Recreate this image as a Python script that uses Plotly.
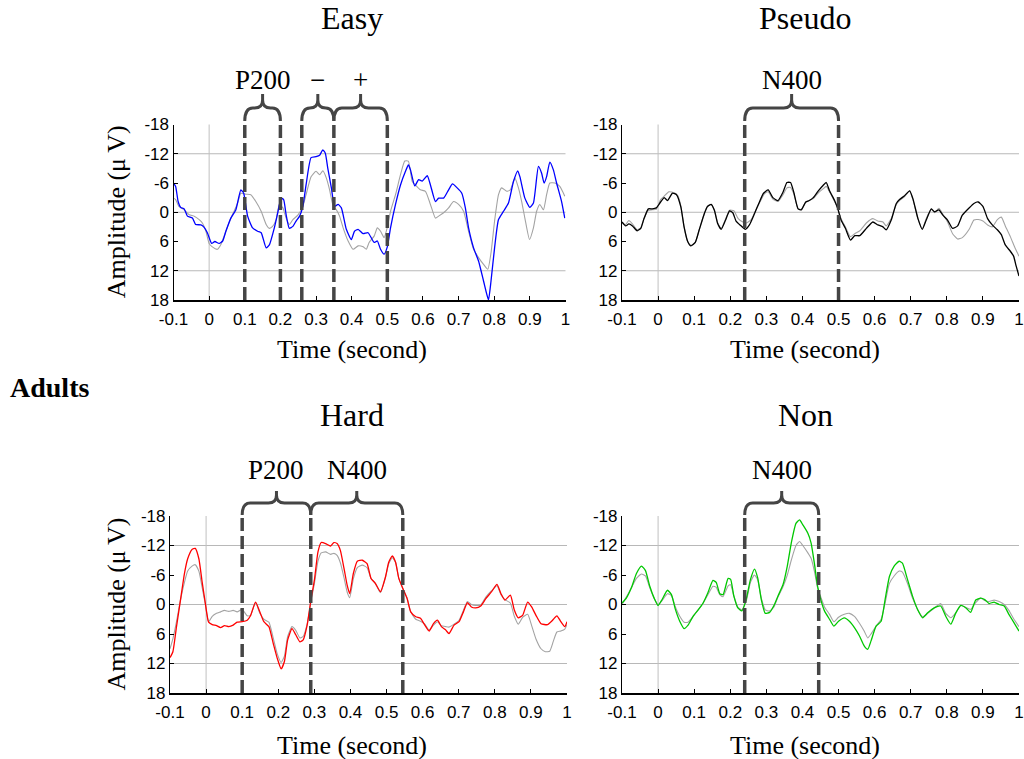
import plotly.graph_objects as go

W, H = 1024, 759

# ---------------- data (time in s, amplitude in µV) ----------------
easy_main = [(-0.100,-6.0),(-0.094,-5.3),(-0.087,-2.2),(-0.080,-1.0),(-0.070,-0.7),(-0.061,0.8),(-0.047,1.2),(-0.038,2.5),(-0.023,2.6),(-0.014,3.1),(-0.005,4.2),(0.007,6.4),(0.016,6.0),(0.028,6.4),(0.038,5.9),(0.047,3.9),(0.061,1.2),(0.075,-0.5),(0.089,-4.6),(0.097,-3.9),(0.108,0.8),(0.122,3.2),(0.136,3.9),(0.146,4.2),(0.160,7.3),(0.169,6.7),(0.183,3.2),(0.192,0.3),(0.202,-2.9),(0.209,-2.6),(0.216,0.5),(0.225,3.3),(0.235,2.9),(0.244,1.8),(0.254,0.8),(0.263,-1.2),(0.272,-5.6),(0.286,-11.2),(0.300,-11.4),(0.310,-11.7),(0.319,-12.8),(0.326,-12.1),(0.333,-9.0),(0.343,-5.0),(0.352,-1.2),(0.362,-1.6),(0.371,-0.9),(0.385,3.5),(0.399,5.6),(0.408,3.9),(0.418,3.5),(0.432,4.4),(0.446,4.2),(0.463,6.2),(0.472,5.9),(0.481,7.6),(0.491,8.6),(0.500,7.1),(0.509,3.2),(0.523,-1.6),(0.537,-5.6),(0.551,-8.4),(0.559,-9.7),(0.565,-8.7),(0.577,-5.4),(0.588,-6.7),(0.598,-6.4),(0.612,-7.5),(0.621,-5.6),(0.635,-2.2),(0.644,-2.9),(0.658,-2.9),(0.672,-4.6),(0.683,-5.8),(0.696,-5.0),(0.709,-3.9),(0.719,-0.9),(0.728,3.2),(0.742,7.3),(0.756,10.0),(0.770,14.1),(0.779,16.8),(0.784,18.0),(0.791,14.1),(0.801,7.3),(0.812,1.5),(0.826,-0.2),(0.840,-1.9),(0.854,-6.3),(0.866,-8.5),(0.872,-7.3),(0.886,-2.9),(0.900,-1.0),(0.910,-1.9),(0.924,-9.4),(0.933,-8.0),(0.940,-6.0),(0.947,-7.3),(0.956,-10.3),(0.966,-8.7),(0.975,-6.0),(0.989,-2.2),(0.998,1.2)]
easy_ref = [(-0.100,-2.9),(-0.094,-2.6),(-0.085,-1.2),(-0.070,-0.5),(-0.056,0.5),(-0.042,0.8),(-0.028,1.5),(-0.019,2.2),(-0.009,3.9),(0.000,6.4),(0.009,7.1),(0.023,7.6),(0.033,6.6),(0.042,4.9),(0.052,2.9),(0.061,1.2),(0.070,-0.2),(0.080,-1.9),(0.089,-3.9),(0.103,-3.7),(0.117,-3.6),(0.131,-2.2),(0.146,-0.2),(0.160,2.5),(0.169,3.3),(0.178,2.9),(0.188,1.5),(0.197,-1.6),(0.207,-0.9),(0.216,1.2),(0.225,2.5),(0.235,1.5),(0.249,0.6),(0.263,-1.2),(0.272,-3.6),(0.286,-7.3),(0.300,-8.4),(0.310,-7.7),(0.319,-8.5),(0.329,-7.0),(0.338,-4.6),(0.347,-1.6),(0.357,-0.5),(0.366,0.8),(0.376,3.2),(0.390,5.9),(0.404,7.6),(0.418,6.9),(0.432,7.1),(0.441,7.6),(0.449,6.2),(0.463,4.9),(0.472,3.2),(0.481,3.9),(0.491,5.2),(0.500,3.1),(0.509,-0.2),(0.523,-3.6),(0.537,-7.7),(0.549,-10.5),(0.559,-10.5),(0.570,-6.3),(0.579,-5.6),(0.593,-4.6),(0.607,-4.3),(0.621,-1.6),(0.635,1.2),(0.644,0.8),(0.658,0.1),(0.672,-0.9),(0.686,-2.2),(0.700,-1.6),(0.714,-0.2),(0.728,3.9),(0.742,7.6),(0.756,9.3),(0.770,10.7),(0.782,11.7),(0.791,8.3),(0.801,1.8),(0.812,-3.6),(0.821,-5.0),(0.835,-4.3),(0.845,-4.6),(0.858,-7.0),(0.868,-5.0),(0.877,-2.2),(0.886,1.2),(0.899,5.6),(0.910,3.2),(0.919,-0.2),(0.928,-1.6),(0.938,-0.5),(0.947,-3.6),(0.956,-6.0),(0.970,-6.0),(0.984,-5.3),(0.998,-3.3)]

pseudo_main = [(-0.100,2.0),(-0.090,2.8),(-0.081,2.4),(-0.071,2.8),(-0.058,3.8),(-0.048,3.3),(-0.039,1.3),(-0.027,-0.7),(-0.016,-0.7),(-0.005,-0.9),(0.007,-2.1),(0.017,-3.0),(0.026,-2.4),(0.040,-3.9),(0.051,-3.6),(0.063,-1.1),(0.072,3.0),(0.082,6.0),(0.091,6.9),(0.103,6.2),(0.114,3.6),(0.128,0.3),(0.137,-1.2),(0.147,-1.6),(0.156,-0.4),(0.165,2.3),(0.175,3.5),(0.187,1.6),(0.198,-0.3),(0.207,0.1),(0.216,1.8),(0.227,2.6),(0.242,3.5),(0.253,2.6),(0.267,0.3),(0.279,-1.8),(0.292,-3.9),(0.305,-4.6),(0.318,-3.0),(0.332,-2.4),(0.346,-4.1),(0.357,-6.1),(0.367,-6.1),(0.376,-4.1),(0.388,-0.7),(0.397,-0.5),(0.409,-2.1),(0.419,-2.4),(0.430,-3.0),(0.444,-4.4),(0.457,-5.5),(0.466,-6.1),(0.475,-4.4),(0.489,-2.4),(0.498,-0.7),(0.507,1.6),(0.519,3.3),(0.533,5.7),(0.545,4.8),(0.559,4.8),(0.577,3.3),(0.595,2.0),(0.609,2.6),(0.623,3.0),(0.632,3.6),(0.646,1.6),(0.660,-1.8),(0.669,-2.6),(0.683,-3.4),(0.697,-4.4),(0.706,-2.8),(0.720,1.3),(0.732,3.5),(0.743,1.6),(0.757,-0.7),(0.766,-0.1),(0.778,-0.5),(0.789,0.6),(0.802,1.6),(0.816,3.3),(0.830,2.8),(0.843,0.6),(0.862,-0.9),(0.875,-1.8),(0.887,-2.1),(0.900,-1.2),(0.913,1.3),(0.926,2.6),(0.940,3.6),(0.951,4.6),(0.962,6.7),(0.976,8.0),(0.985,9.0),(0.992,11.0),(1.000,13.1)]
pseudo_ref = [(-0.100,2.3),(-0.090,2.5),(-0.081,1.7),(-0.071,2.4),(-0.058,3.6),(-0.048,3.2),(-0.039,1.3),(-0.027,-0.4),(-0.016,-0.5),(-0.005,-0.6),(0.007,-2.6),(0.017,-3.3),(0.030,-4.2),(0.045,-4.0),(0.055,-3.4),(0.063,-1.3),(0.072,3.0),(0.082,6.0),(0.091,6.8),(0.103,6.2),(0.114,3.6),(0.128,0.3),(0.137,-1.2),(0.147,-1.6),(0.156,-0.4),(0.165,2.1),(0.175,3.3),(0.187,1.4),(0.198,-0.4),(0.210,-0.3),(0.222,1.3),(0.235,2.0),(0.245,2.2),(0.258,1.5),(0.270,-0.3),(0.283,-2.2),(0.295,-3.8),(0.305,-4.2),(0.318,-2.7),(0.332,-2.2),(0.346,-3.6),(0.357,-5.0),(0.367,-5.1),(0.376,-3.8),(0.388,-0.7),(0.397,-0.6),(0.409,-2.0),(0.419,-2.4),(0.430,-2.8),(0.444,-4.0),(0.457,-4.8),(0.466,-5.3),(0.475,-4.2),(0.489,-2.2),(0.498,-0.8),(0.507,1.3),(0.519,3.0),(0.533,5.0),(0.545,4.4),(0.559,3.8),(0.577,2.2),(0.595,1.3),(0.609,1.8),(0.623,2.0),(0.632,2.8),(0.646,1.3),(0.660,-1.6),(0.669,-2.4),(0.683,-3.2),(0.697,-4.4),(0.706,-2.6),(0.720,1.3),(0.732,3.4),(0.743,1.3),(0.757,-0.7),(0.766,0.1),(0.778,-0.8),(0.789,0.4),(0.802,2.0),(0.816,4.4),(0.830,5.5),(0.843,5.2),(0.862,3.5),(0.875,1.6),(0.887,1.5),(0.900,1.8),(0.913,2.6),(0.926,3.0),(0.940,1.5),(0.951,1.0),(0.962,2.8),(0.976,5.0),(0.990,7.5),(1.000,9.0)]

hard_main = [(-0.100,10.8),(-0.092,9.6),(-0.082,4.5),(-0.071,-0.9),(-0.060,-6.3),(-0.051,-9.3),(-0.039,-11.2),(-0.030,-11.4),(-0.020,-9.3),(-0.011,-4.6),(-0.002,-0.2),(0.007,3.6),(0.017,4.1),(0.029,4.3),(0.040,4.7),(0.051,4.3),(0.063,4.5),(0.075,4.2),(0.086,3.6),(0.100,3.5),(0.114,3.2),(0.123,2.3),(0.137,-0.5),(0.149,1.5),(0.160,3.5),(0.174,4.5),(0.186,7.9),(0.197,10.9),(0.208,13.1),(0.217,11.6),(0.226,7.2),(0.238,4.9),(0.248,6.1),(0.260,7.6),(0.269,7.2),(0.280,4.2),(0.291,-1.2),(0.300,-4.9),(0.310,-10.7),(0.319,-12.6),(0.331,-12.4),(0.345,-11.9),(0.354,-12.6),(0.363,-12.4),(0.372,-11.0),(0.382,-7.4),(0.391,-3.9),(0.398,-2.2),(0.408,-6.3),(0.419,-8.8),(0.433,-9.0),(0.446,-8.3),(0.457,-5.3),(0.469,-4.3),(0.483,-2.6),(0.497,-5.6),(0.506,-8.6),(0.516,-9.9),(0.525,-8.6),(0.534,-5.3),(0.546,-3.1),(0.557,-1.2),(0.567,1.5),(0.581,2.5),(0.594,2.8),(0.606,4.2),(0.618,5.4),(0.630,3.9),(0.641,3.2),(0.652,4.5),(0.664,5.2),(0.673,5.9),(0.687,4.2),(0.701,3.5),(0.713,1.5),(0.724,-0.4),(0.735,0.5),(0.747,0.7),(0.761,0.3),(0.775,-1.2),(0.791,-2.6),(0.806,-4.1),(0.817,-2.2),(0.828,-0.9),(0.843,-1.9),(0.854,1.1),(0.865,2.7),(0.877,2.2),(0.891,-0.5),(0.902,0.5),(0.914,2.2),(0.928,3.9),(0.946,4.1),(0.960,3.2),(0.972,2.3),(0.983,3.5),(0.994,4.5),(1.000,3.5)]
hard_ref = [(-0.100,9.0),(-0.092,7.0),(-0.082,3.5),(-0.071,-0.9),(-0.060,-4.5),(-0.051,-6.8),(-0.039,-7.8),(-0.030,-8.1),(-0.020,-6.8),(-0.011,-3.5),(-0.002,0.0),(0.007,3.5),(0.017,2.4),(0.029,1.8),(0.040,1.5),(0.051,1.2),(0.063,1.4),(0.075,1.2),(0.086,1.5),(0.100,1.0),(0.114,2.3),(0.123,2.2),(0.137,-0.4),(0.149,1.8),(0.160,3.0),(0.174,3.6),(0.186,6.8),(0.197,10.0),(0.208,11.8),(0.217,10.5),(0.226,6.5),(0.238,4.5),(0.248,5.2),(0.260,6.8),(0.269,6.5),(0.280,4.0),(0.291,-0.8),(0.300,-4.2),(0.310,-8.8),(0.319,-10.5),(0.331,-10.7),(0.345,-10.2),(0.354,-10.4),(0.363,-10.0),(0.372,-8.5),(0.382,-5.5),(0.391,-2.5),(0.398,-1.4),(0.408,-5.2),(0.419,-7.5),(0.433,-8.0),(0.446,-7.5),(0.457,-5.3),(0.469,-4.3),(0.483,-2.4),(0.497,-5.5),(0.506,-8.3),(0.516,-9.5),(0.525,-8.6),(0.534,-5.3),(0.546,-3.1),(0.557,-1.3),(0.567,1.5),(0.581,3.0),(0.594,3.4),(0.606,4.0),(0.618,5.2),(0.630,4.2),(0.641,3.5),(0.652,4.3),(0.664,4.5),(0.673,4.6),(0.687,4.0),(0.701,3.2),(0.713,1.2),(0.724,-0.6),(0.735,0.0),(0.747,0.2),(0.761,0.1),(0.775,-1.5),(0.791,-2.8),(0.806,-3.8),(0.817,-2.0),(0.828,-1.0),(0.843,-0.3),(0.854,2.4),(0.865,4.0),(0.877,2.6),(0.891,2.0),(0.902,4.3),(0.914,7.0),(0.928,9.0),(0.940,9.6),(0.952,9.5),(0.962,7.5),(0.972,5.6),(0.983,5.4),(0.994,5.0),(1.000,4.0)]

non_main = [(-0.100,-0.3),(-0.088,-1.3),(-0.074,-3.4),(-0.060,-6.3),(-0.046,-7.8),(-0.035,-6.9),(-0.023,-3.7),(-0.011,-1.3),(0.000,0.2),(0.011,-1.0),(0.026,-2.9),(0.037,-2.0),(0.048,1.0),(0.060,3.4),(0.072,4.9),(0.083,4.2),(0.097,2.4),(0.111,1.1),(0.124,-0.2),(0.138,-2.4),(0.152,-4.9),(0.161,-4.5),(0.171,-2.2),(0.180,-2.0),(0.194,-5.3),(0.201,-5.1),(0.210,-1.7),(0.221,0.7),(0.232,1.3),(0.244,-1.0),(0.256,-5.1),(0.267,-7.2),(0.276,-5.4),(0.286,-1.0),(0.297,1.8),(0.309,1.6),(0.321,0.2),(0.332,-1.7),(0.346,-4.0),(0.358,-7.8),(0.369,-12.5),(0.382,-16.5),(0.392,-17.2),(0.401,-16.2),(0.415,-14.5),(0.424,-12.5),(0.433,-8.4),(0.442,-3.7),(0.452,-0.7),(0.461,1.3),(0.475,3.0),(0.487,4.4),(0.500,3.4),(0.516,2.7),(0.530,3.4),(0.544,4.7),(0.558,6.4),(0.571,8.4),(0.581,9.1),(0.590,7.4),(0.604,4.4),(0.618,3.4),(0.629,-1.0),(0.641,-5.7),(0.654,-7.8),(0.668,-8.8),(0.677,-8.4),(0.691,-5.1),(0.705,-1.7),(0.719,1.0),(0.733,2.7),(0.747,1.7),(0.765,0.7),(0.783,0.3),(0.797,2.4),(0.811,4.0),(0.825,1.7),(0.839,0.2),(0.853,0.7),(0.866,1.6),(0.880,-0.9),(0.894,-1.3),(0.905,-1.0),(0.917,-0.2),(0.931,-0.5),(0.945,0.0),(0.959,0.3),(0.972,2.0),(0.986,3.7),(1.000,5.4)]
non_ref = [(-0.100,0.0),(-0.088,-1.5),(-0.074,-3.4),(-0.060,-5.3),(-0.046,-6.2),(-0.035,-5.8),(-0.023,-3.4),(-0.011,-1.3),(0.000,0.0),(0.011,-0.8),(0.026,-2.2),(0.037,-1.8),(0.048,0.5),(0.060,2.4),(0.072,3.6),(0.083,3.6),(0.097,2.4),(0.111,1.1),(0.124,-0.2),(0.138,-2.0),(0.152,-3.7),(0.161,-3.5),(0.171,-2.0),(0.180,-1.6),(0.194,-3.8),(0.201,-4.0),(0.210,-1.7),(0.221,0.5),(0.232,1.1),(0.244,-0.6),(0.256,-4.5),(0.267,-6.0),(0.276,-5.0),(0.286,-1.3),(0.297,1.1),(0.309,1.3),(0.321,0.5),(0.332,-1.5),(0.346,-3.6),(0.358,-6.0),(0.369,-9.0),(0.382,-12.0),(0.392,-12.8),(0.401,-12.0),(0.415,-10.5),(0.424,-9.4),(0.433,-6.8),(0.442,-3.4),(0.452,-1.3),(0.461,0.5),(0.475,2.0),(0.487,3.5),(0.500,2.6),(0.516,2.0),(0.530,1.8),(0.544,2.4),(0.558,3.8),(0.571,5.4),(0.581,6.8),(0.590,6.0),(0.604,4.4),(0.618,3.0),(0.629,-0.3),(0.641,-4.3),(0.654,-5.8),(0.668,-6.8),(0.677,-6.6),(0.691,-4.3),(0.705,-1.3),(0.719,1.0),(0.733,2.5),(0.747,1.8),(0.765,0.7),(0.783,-0.2),(0.797,1.8),(0.811,2.7),(0.825,1.7),(0.839,0.2),(0.853,0.6),(0.866,1.0),(0.880,-0.4),(0.894,-1.3),(0.905,-0.8),(0.917,-0.6),(0.931,-0.9),(0.945,-0.6),(0.959,0.0),(0.972,1.2),(0.986,3.0),(1.000,4.5)]

x_tick_vals = [-0.1, 0, 0.1, 0.2, 0.3, 0.4, 0.5, 0.6, 0.7, 0.8, 0.9, 1.0]
x_tick_text = ["-0.1", "0", "0.1", "0.2", "0.3", "0.4", "0.5", "0.6", "0.7", "0.8", "0.9", "1"]
y_tick_vals = [-18, -12, -6, 0, 6, 12, 18]
y_tick_text = ["-18", "-12", "-6", "0", "6", "12", "18"]
grid_vals = [-12, 0, 12]

easy_windows = [(0.10, 0.20, "P200"), (0.26, 0.35, "\u2212"), (0.35, 0.50, "+")]
pseudo_windows = [(0.24, 0.50, "N400")]
hard_windows = [(0.10, 0.29, "P200"), (0.29, 0.545, "N400")]
non_windows = [(0.24, 0.445, "N400")]

# ---------------- layout / style ----------------
SERIF = "Liberation Serif, Times New Roman, serif"
SANS = "Liberation Sans, Arial, sans-serif"
GRAY = "#a3a3a3"
BRK = "#454545"

def py(p):
    return 1 - p / H

panels = [
    dict(title="Easy", main=easy_main, ref=easy_ref, color="#0000ff", win=easy_windows,
         xpx=(173.5, 565.5), ypx=(124.5, 300), ylab=True, row=0, tx=352),
    dict(title="Pseudo", main=pseudo_main, ref=pseudo_ref, color="#000000", win=pseudo_windows,
         xpx=(622, 1019), ypx=(124.5, 300), ylab=False, row=0, tx=805),
    dict(title="Hard", main=hard_main, ref=hard_ref, color="#ff0000", win=hard_windows,
         xpx=(170, 567), ypx=(516, 693), ylab=True, row=1, tx=352),
    dict(title="Non", main=non_main, ref=non_ref, color="#00c800", win=non_windows,
         xpx=(622, 1019), ypx=(516, 693), ylab=False, row=1, tx=805),
]

brk_rows = [dict(yd=121, yh=108, ytop=94, lab=80, title=18, xlab=350),
            dict(yd=515, yh=503, ytop=491, lab=470, title=415, xlab=745)]

fig = go.Figure()
shapes, annots = [], []
XMIN, XMAX = -0.1, 1.0

for i, p in enumerate(panels):
    k = "" if i == 0 else str(i + 1)
    xa, ya = "x" + k, "y" + k
    xdom = [p["xpx"][0] / W, p["xpx"][1] / W]
    ydom = [py(p["ypx"][1]), py(p["ypx"][0])]

    fig.add_trace(go.Scatter(x=[a for a, b in p["ref"]], y=[b for a, b in p["ref"]],
                             mode="lines", line=dict(color=GRAY, width=1.1, shape="spline", smoothing=0.5),
                             xaxis=xa, yaxis=ya, showlegend=False, hoverinfo="skip"))
    fig.add_trace(go.Scatter(x=[a for a, b in p["main"]], y=[b for a, b in p["main"]],
                             mode="lines", line=dict(color=p["color"], width=1.3, shape="spline", smoothing=0.5),
                             xaxis=xa, yaxis=ya, showlegend=False, hoverinfo="skip"))

    axx = dict(domain=xdom, range=[XMIN, XMAX], tickvals=x_tick_vals, ticktext=x_tick_text,
               ticks="inside", ticklen=4, tickcolor="black", showline=True, linecolor="black",
               linewidth=1.5, showgrid=False, zeroline=False, anchor=ya, automargin=False,
               ticklabelstandoff=3,
               tickfont=dict(family=SANS, size=17, color="black"), fixedrange=True)
    axy = dict(domain=ydom, range=[18, -18], tickvals=y_tick_vals, ticktext=y_tick_text,
               ticks="inside", ticklen=4, tickcolor="black", showline=True, linecolor="black",
               linewidth=1.2, showgrid=False, zeroline=False, anchor=xa, automargin=False,
               tickfont=dict(family=SANS, size=17, color="black"), fixedrange=True)
    fig.update_layout(**{"xaxis" + k: axx, "yaxis" + k: axy})

    for g in grid_vals:
        shapes.append(dict(type="line", xref=xa + " domain", yref=ya, x0=0, x1=1, y0=g, y1=g,
                           line=dict(color="#b8b8b8", width=1), layer="below"))
    shapes.append(dict(type="line", xref=xa, yref=ya + " domain", x0=0, x1=0, y0=0, y1=1,
                       line=dict(color="#c0c0c0", width=1), layer="below"))

    r = brk_rows[p["row"]]

    def tx(v, xdom=xdom):
        return xdom[0] + (v - XMIN) / (XMAX - XMIN) * (xdom[1] - xdom[0])

    bounds = sorted(set([w[0] for w in p["win"]] + [w[1] for w in p["win"]]))
    for b in bounds:
        shapes.append(dict(type="line", xref="paper", yref="paper", x0=tx(b), x1=tx(b),
                           y0=py(p["ypx"][1]), y1=py(r["yd"]),
                           line=dict(color=BRK, width=3.5, dash="13px,5px"), layer="above"))
    rx, ry = 8 / W, 8 / H
    yd, yh, yt = py(r["yd"]), py(r["yh"]), py(r["ytop"])
    for (a, b, lab) in p["win"]:
        x0, x1 = tx(a), tx(b)
        xm = (x0 + x1) / 2
        path = (f"M {x0},{yd} Q {x0},{yh} {x0+rx},{yh} L {xm-rx},{yh} Q {xm},{yh} {xm},{yh+ry} "
                f"L {xm},{yt} M {xm},{yh+ry} Q {xm},{yh} {xm+rx},{yh} L {x1-rx},{yh} Q {x1},{yh} {x1},{yd}")
        shapes.append(dict(type="path", xref="paper", yref="paper", path=path,
                           line=dict(color=BRK, width=3), layer="above"))
        annots.append(dict(text=lab, x=xm, y=py(r["lab"]), xref="paper", yref="paper",
                           showarrow=False, xanchor="center", yanchor="middle",
                           font=dict(family=SERIF, size=27, color="black")))

    xc = p["tx"] / W
    annots.append(dict(text=p["title"], x=xc, y=py(r["title"]), xref="paper", yref="paper",
                       showarrow=False, xanchor="center", yanchor="middle",
                       font=dict(family=SERIF, size=32, color="black")))
    annots.append(dict(text="Time (second)", x=xc, y=py(r["xlab"]), xref="paper", yref="paper",
                       showarrow=False, xanchor="center", yanchor="middle",
                       font=dict(family=SERIF, size=26, color="black")))
    if p["ylab"]:
        annots.append(dict(text="Amplitude (\u03bc\u2009V)", x=116 / W, y=(ydom[0] + ydom[1]) / 2,
                           xref="paper", yref="paper", showarrow=False, textangle=-90,
                           xanchor="center", yanchor="middle",
                           font=dict(family=SERIF, size=26, color="black")))

annots.append(dict(text="<b>Adults</b>", x=8 / W, y=py(387), xref="paper", yref="paper",
                   showarrow=False, xanchor="left", yanchor="middle",
                   font=dict(family=SERIF, size=28, color="black")))

fig.update_layout(width=W, height=H, margin=dict(l=0, r=0, t=0, b=0, autoexpand=False),
                  autosize=False, paper_bgcolor="white", plot_bgcolor="white",
                  shapes=shapes, annotations=annots, showlegend=False)

fig.write_html("out.html", config={"displayModeBar": False})
